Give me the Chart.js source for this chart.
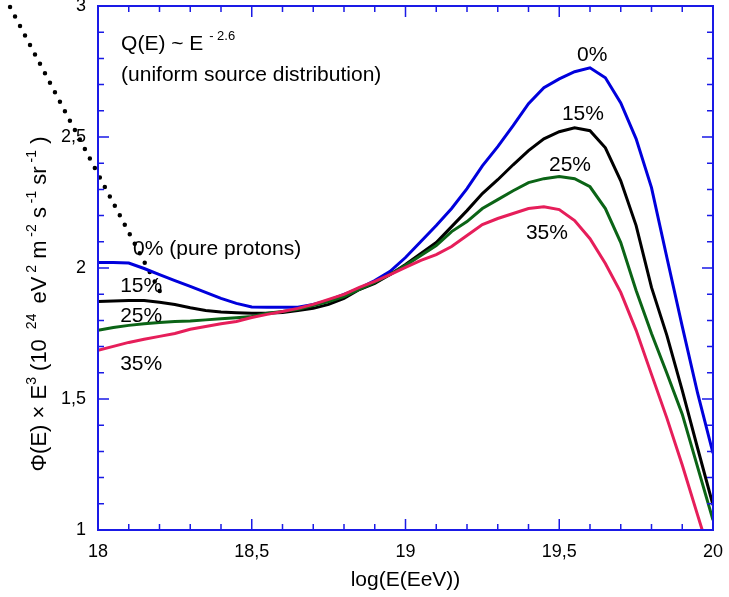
<!DOCTYPE html>
<html>
<head>
<meta charset="utf-8">
<script src="https://cdn.jsdelivr.net/npm/chart.js@4/dist/chart.umd.min.js"></script>
<style>
  body { margin: 0; background: #fff; }
  canvas { display: block; }
</style>
</head>
<body>
<canvas id="flux_graph" width="729" height="597"></canvas>
<script>
// log10(E / eV)
var energies = [18.00, 18.05, 18.10, 18.15, 18.20, 18.25, 18.30, 18.35, 18.40, 18.45,
                18.50, 18.55, 18.60, 18.65, 18.70, 18.75, 18.80, 18.85, 18.90, 18.95,
                19.00, 19.05, 19.10, 19.15, 19.20, 19.25, 19.30, 19.35, 19.40, 19.45,
                19.50, 19.55, 19.60, 19.65, 19.70, 19.75, 19.80, 19.85, 19.90, 19.95, 20.00];

// flux x E^3 for the heavy-nuclei fractions
var flux0 = [2.021, 2.021, 2.019, 1.998, 1.975, 1.952, 1.930, 1.907, 1.884, 1.865,
             1.851, 1.850, 1.850, 1.850, 1.861, 1.876, 1.899, 1.922, 1.952, 1.987,
             2.040, 2.101, 2.162, 2.227, 2.303, 2.390, 2.463, 2.543, 2.627, 2.688,
             2.722, 2.749, 2.764, 2.726, 2.630, 2.493, 2.307, 2.040, 1.777, 1.522, 1.293];
var flux15 = [1.872, 1.874, 1.876, 1.876, 1.869, 1.861, 1.848, 1.838, 1.832, 1.829,
              1.827, 1.827, 1.830, 1.838, 1.846, 1.861, 1.884, 1.918, 1.941, 1.975,
              2.013, 2.055, 2.097, 2.158, 2.219, 2.284, 2.337, 2.394, 2.448, 2.493,
              2.520, 2.535, 2.524, 2.459, 2.333, 2.162, 1.926, 1.743, 1.533, 1.312, 1.095];
var flux25 = [1.762, 1.773, 1.781, 1.787, 1.792, 1.796, 1.798, 1.802, 1.806, 1.810,
              1.815, 1.827, 1.834, 1.842, 1.857, 1.872, 1.891, 1.918, 1.945, 1.975,
              2.010, 2.048, 2.086, 2.139, 2.177, 2.227, 2.261, 2.295, 2.326, 2.341,
              2.349, 2.341, 2.310, 2.227, 2.097, 1.914, 1.750, 1.598, 1.442, 1.240, 1.038];
var flux35 = [1.686, 1.701, 1.716, 1.728, 1.739, 1.750, 1.766, 1.777, 1.787, 1.796,
              1.811, 1.823, 1.834, 1.846, 1.861, 1.880, 1.899, 1.926, 1.949, 1.975,
              2.002, 2.029, 2.051, 2.082, 2.124, 2.166, 2.189, 2.208, 2.227, 2.234,
              2.223, 2.181, 2.112, 2.017, 1.907, 1.762, 1.594, 1.427, 1.248, 1.057, 0.866];

// dotted reference line (pure protons, E^-2.6 source)
var refLine = [{x: 17.714, y: 2.996}, {x: 18.215, y: 1.880}];

var xTickValues = [18, 18.5, 19, 19.5, 20];
var xTickLabels = ['18', '18,5', '19', '19,5', '20'];
var yTickValues = [1, 1.5, 2, 2.5, 3];
var yTickLabels = ['1', '1,5', '2', '2,5', '3'];

var FONT = '"Liberation Sans", Arial, Helvetica, sans-serif';
var AXIS_COLOR = '#1a1ae6';

function series(vals) {
	var pts = [];
	for (var i = 0; i < energies.length; i++) {
		pts.push({x: energies[i], y: vals[i]});
	}
	return pts;
}

// text labels, anchored in data coordinates
var notes = [
	{text: '0%', x: 19.607, y: 2.790, align: 'center'},
	{text: '15%', x: 19.577, y: 2.566, align: 'center'},
	{text: '25%', x: 19.535, y: 2.371, align: 'center'},
	{text: '35%', x: 19.460, y: 2.109, align: 'center'},
	{text: '0% (pure protons)', x: 18.114, y: 2.051, align: 'left'},
	{text: '15%', x: 18.072, y: 1.907, align: 'left'},
	{text: '25%', x: 18.072, y: 1.792, align: 'left'},
	{text: '35%', x: 18.072, y: 1.610, align: 'left'},
	{text: '(uniform source distribution)', x: 18.075, y: 2.714, align: 'left'}
];

// draw a run of [text, isSuperscript] pieces from the current origin
function richText(ctx, parts, size) {
	var pos = 0;
	parts.forEach(function(p) {
		if (p[1]) {
			ctx.font = Math.round(size * 0.64) + 'px ' + FONT;
			ctx.fillText(p[0], pos, -size * 0.47);
		} else {
			ctx.font = size + 'px ' + FONT;
			ctx.fillText(p[0], pos, 0);
		}
		pos += ctx.measureText(p[0]).width;
	});
	return pos;
}
function richWidth(ctx, parts, size) {
	var w = 0;
	parts.forEach(function(p) {
		ctx.font = (p[1] ? Math.round(size * 0.64) : size) + 'px ' + FONT;
		w += ctx.measureText(p[0]).width;
	});
	return w;
}

var yTitle = [['\u03A6(E) \u00D7 E', false], ['3', true], [' (10 ', false], [' 24 ', true],
              [' eV', false], [' 2', true], [' m', false], [' -2', true], [' s', false],
              [' -1', true], [' sr', false], [' -1', true], [' )', false]];

var decorations = {
	id: 'decorations',
	afterDatasetsDraw: function(chart) {
		var ctx = chart.ctx, a = chart.chartArea;
		var xs = chart.scales.x, ys = chart.scales.y;
		ctx.save();

		// boxed frame with inward ticks on all four sides
		ctx.strokeStyle = AXIS_COLOR;
		ctx.lineWidth = 2;
		ctx.strokeRect(a.left, a.top, a.right - a.left, a.bottom - a.top);
		ctx.lineWidth = 1.5;
		ctx.beginPath();
		for (var i = 0; i <= 20; i++) {
			var px = xs.getPixelForValue(18 + i * 0.1);
			var len = (i % 5 == 0) ? 11 : 6;
			ctx.moveTo(px, a.bottom); ctx.lineTo(px, a.bottom - len);
			ctx.moveTo(px, a.top); ctx.lineTo(px, a.top + len);
			var py = ys.getPixelForValue(1 + i * 0.1);
			ctx.moveTo(a.left, py); ctx.lineTo(a.left + len, py);
			ctx.moveTo(a.right, py); ctx.lineTo(a.right - len, py);
		}
		ctx.stroke();

		// curve labels
		ctx.fillStyle = '#000';
		ctx.textBaseline = 'alphabetic';
		ctx.font = '21px ' + FONT;
		notes.forEach(function(n) {
			ctx.textAlign = n.align;
			ctx.fillText(n.text, xs.getPixelForValue(n.x), ys.getPixelForValue(n.y));
		});

		// Q(E) ~ E^-2.6
		ctx.textAlign = 'left';
		ctx.save();
		ctx.translate(xs.getPixelForValue(18.075), ys.getPixelForValue(2.832));
		richText(ctx, [['Q(E) ~ E ', false], ['- 2.6', true]], 21);
		ctx.restore();

		// rotated y axis title
		ctx.save();
		var w = richWidth(ctx, yTitle, 22);
		ctx.translate(46, 304 + w / 2);
		ctx.rotate(-Math.PI / 2);
		richText(ctx, yTitle, 22);
		ctx.restore();

		ctx.restore();
	}
};

var lineStyle = {pointRadius: 0, borderWidth: 3, tension: 0, fill: false};

var fluxGraph = new Chart(document.getElementById('flux_graph'), {
	type: 'line',
	data: {
		datasets: [
			Object.assign({label: '0%', data: series(flux0), borderColor: '#0000dc', order: 3}, lineStyle),
			Object.assign({label: '15%', data: series(flux15), borderColor: '#000000', order: 2}, lineStyle),
			Object.assign({label: '25%', data: series(flux25), borderColor: '#0b6416', order: 1}, lineStyle),
			Object.assign({label: '35%', data: series(flux35), borderColor: '#e61e5a', order: 0}, lineStyle),
			{
				label: 'pure protons',
				data: refLine,
				borderColor: '#000',
				borderWidth: 4.5,
				borderDash: [0, 10.7],
				borderCapStyle: 'round',
				pointRadius: 0,
				clip: false,
				order: 4
			}
		]
	},
	options: {
		responsive: false,
		animation: false,
		devicePixelRatio: 1,
		layout: {padding: {top: 6, right: 16, left: 0, bottom: 0}},
		plugins: {legend: {display: false}, tooltip: {enabled: false}},
		scales: {
			x: {
				type: 'linear', min: 18, max: 20,
				grid: {display: false}, border: {display: false},
				afterBuildTicks: function(s) { s.ticks = xTickValues.map(function(v) { return {value: v}; }); },
				afterFit: function(s) { s.height = 67; s.paddingLeft = 0; s.paddingRight = 0; },
				ticks: {
					padding: 3, color: '#000', autoSkip: false, maxRotation: 0,
					font: {size: 18, family: FONT},
					callback: function(v, i) { return xTickLabels[i]; }
				},
				title: {display: true, text: 'log(E(EeV))', color: '#000', font: {size: 21, family: FONT}, padding: {top: 0, bottom: 4}}
			},
			y: {
				type: 'linear', min: 1, max: 3,
				grid: {display: false}, border: {display: false},
				afterBuildTicks: function(s) { s.ticks = yTickValues.map(function(v) { return {value: v}; }); },
				afterFit: function(s) { s.width = 98; s.paddingTop = 0; s.paddingBottom = 0; },
				ticks: {
					padding: 4, color: '#000', autoSkip: false,
					font: {size: 18, family: FONT},
					callback: function(v, i) { return yTickLabels[i]; }
				}
			}
		}
	},
	plugins: [decorations]
});
</script>
</body>
</html>
